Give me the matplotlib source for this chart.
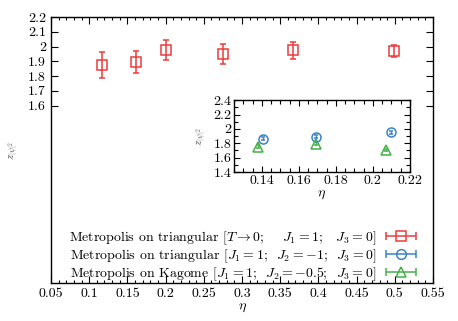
import numpy as np
import matplotlib
matplotlib.use("Agg")
import matplotlib.pyplot as plt
from matplotlib.ticker import MultipleLocator, FuncFormatter
from matplotlib.container import ErrorbarContainer
from matplotlib.legend_handler import HandlerErrorbar

plt.rcParams["font.family"] = "cmr10"
plt.rcParams["mathtext.fontset"] = "cm"
plt.rcParams["axes.formatter.use_mathtext"] = True
plt.rcParams["axes.unicode_minus"] = False

# main panel: Metropolis on triangular, T -> 0
eta_tri0 = [0.117, 0.161, 0.201, 0.2755, 0.367, 0.499]
z_tri0 = [1.873, 1.896, 1.977, 1.950, 1.975, 1.970]
err_tri0 = [0.089, 0.074, 0.066, 0.068, 0.058, 0.040]

# inset: Metropolis on triangular, J2 = -1
eta_tri = [0.1409, 0.1693, 0.2100]
z_tri = [1.863, 1.890, 1.956]
err_tri = [0.02, 0.02, 0.02]

# inset: Metropolis on Kagome, J2 = -0.5
eta_kag = [0.1379, 0.1693, 0.2073]
z_kag = [1.751, 1.797, 1.706]
err_kag = [0.02, 0.02, 0.02]

labels = [
    r"Metropolis on triangular [$T \to 0$;    $J_1 = 1$;   $J_3 = 0$]",
    r"Metropolis on triangular [$J_1 = 1$;  $J_2 = -1$;  $J_3 = 0$]",
    r"Metropolis on Kagome [$J_1 = 1$;  $J_2 = -0.5$;  $J_3 = 0$]",
]

RED = "#ec3b3b"
BLUE = "#3b82c8"
GREEN = "#45b048"

fmt_g = FuncFormatter(lambda v, p: "%g" % round(v, 4))

fig = plt.figure(figsize=(4.58, 3.21), dpi=100)
ax = fig.add_axes([0.1114, 0.1184, 0.834, 0.8287])

ax.errorbar(eta_tri0, z_tri0, yerr=err_tri0, fmt="s", color=RED, ms=6.5,
            mfc="none", mew=1.1, elinewidth=1.1, capsize=2.5, capthick=1.1)

ax.set_xlim(0.05, 0.55)
ax.set_ylim(0.4, 2.2)
ax.xaxis.set_major_locator(MultipleLocator(0.05))
ax.xaxis.set_minor_locator(MultipleLocator(0.01))
ax.set_yticks(np.arange(1.6, 2.21, 0.1))
ax.xaxis.set_major_formatter(fmt_g)
ax.yaxis.set_major_formatter(fmt_g)
ax.tick_params(which="both", direction="in", top=True, right=True, labelsize=10)
ax.tick_params(which="major", length=5, width=0.8)
ax.tick_params(which="minor", length=2.5, width=0.8)
for s in ax.spines.values():
    s.set_linewidth(1.0)
ax.set_xlabel(r"$\eta$", fontsize=10, labelpad=1)
ax.set_ylabel(r"$z_{|\psi|^2}$", fontsize=8, labelpad=4, color="#555555")

# legend handles drawn gnuplot-style: horizontal bar with caps
handles = []
for col, mk in [(RED, "s"), (BLUE, "o"), (GREEN, "^")]:
    h = ax.errorbar([np.nan], [np.nan], xerr=[1.0], fmt=mk, color=col, ms=7,
                    mfc="none", mew=1.1, elinewidth=1.1, capsize=3, capthick=1.1)
    handles.append(h)
leg = ax.legend(handles, labels, loc="lower right", bbox_to_anchor=(0.955, 0.0),
                frameon=False, fontsize=10, markerfirst=False,
                handlelength=2.2, handletextpad=0.65, labelspacing=0.05,
                borderaxespad=0, borderpad=0,
                handler_map={ErrorbarContainer: HandlerErrorbar(xerr_size=1.08)})

# inset
ins = fig.add_axes([0.511, 0.464, 0.384, 0.224])
ins.errorbar(eta_tri, z_tri, yerr=err_tri, fmt="o", color=BLUE, ms=6.5,
             mfc="none", mew=1.1, elinewidth=1.0, capsize=1.5)
ins.errorbar(eta_kag, z_kag, yerr=err_kag, fmt="^", color=GREEN, ms=7,
             mfc="none", mew=1.1, elinewidth=1.0, capsize=1.5)
ins.set_xlim(0.125, 0.22)
ins.set_ylim(1.4, 2.4)
ins.xaxis.set_major_locator(MultipleLocator(0.02))
ins.xaxis.set_minor_locator(MultipleLocator(0.005))
ins.yaxis.set_major_locator(MultipleLocator(0.2))
ins.yaxis.set_minor_locator(MultipleLocator(0.1))
ins.xaxis.set_major_formatter(fmt_g)
ins.yaxis.set_major_formatter(fmt_g)
ins.tick_params(which="both", direction="in", top=True, right=True, labelsize=10)
ins.tick_params(which="major", length=4, width=0.8, pad=2)
ins.tick_params(which="minor", length=3, width=0.8)
for s in ins.spines.values():
    s.set_linewidth(1.0)
ins.set_xlabel(r"$\eta$", fontsize=10, labelpad=1)
ins.set_ylabel(r"$z_{|\psi|^2}$", fontsize=8, labelpad=2, color="#555555")

fig.savefig("out.png", dpi=100)
